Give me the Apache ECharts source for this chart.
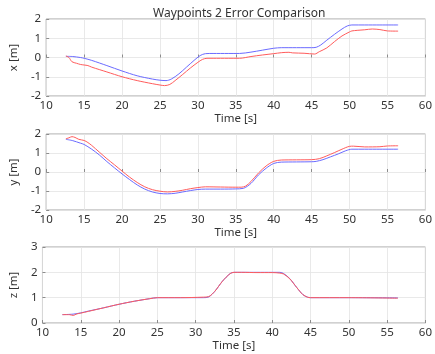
<!DOCTYPE html>
<html><head><meta charset="utf-8">
<script src="https://cdn.jsdelivr.net/npm/echarts@6/dist/echarts.min.js"></script>
<style>html,body{margin:0;padding:0;background:#fff}#c{width:435px;height:354px}</style>
</head><body><div id="c"></div>
<script>
// ---- Data ----
const xRefT = [12.6,13.5,14.5,15,16,18,20,22,24,25,25.8,26.5,27.5,28.5,29.5,30.3,31,32,34,35.5,37,38.5,40,41,43,45,45.6,46.2,47,48,49,49.7,50.3,52,54,56.4];
const xRefV = [0.06,0.05,0.0,-0.04,-0.15,-0.42,-0.7,-0.95,-1.12,-1.18,-1.2,-1.12,-0.85,-0.5,-0.15,0.1,0.2,0.21,0.21,0.21,0.28,0.38,0.48,0.51,0.51,0.51,0.53,0.65,0.9,1.2,1.48,1.64,1.69,1.69,1.69,1.69];
const xActT = [12.6,13.0,13.4,14.0,14.5,15,15.5,16,18,20,22,24,25,25.6,26.3,27,28,29,30,30.6,31.2,32,34,35.5,37,38.5,40,41,42,42.5,44,45.4,46,47,48,49,50,50.3,51,52,53,54,55,56.4];
const xActV = [0.08,0.0,-0.22,-0.3,-0.36,-0.39,-0.42,-0.5,-0.75,-1.0,-1.2,-1.36,-1.43,-1.46,-1.4,-1.2,-0.88,-0.55,-0.25,-0.1,-0.04,-0.04,-0.04,-0.04,0.05,0.13,0.2,0.25,0.27,0.24,0.22,0.18,0.3,0.5,0.82,1.12,1.33,1.38,1.41,1.44,1.48,1.45,1.38,1.37];

const yRefT = [12.6,13.5,14.5,15,16,17,18,19,20,21,22,23,24,25,26,27,28,29,30,31,33,35,36,37,38,39,40,41,43,45,45.6,46.5,47.5,48.5,49.5,50.3,52,54,56.4];
const yRefV = [1.72,1.65,1.52,1.45,1.2,0.9,0.55,0.22,-0.1,-0.4,-0.68,-0.9,-1.05,-1.13,-1.15,-1.12,-1.05,-0.98,-0.92,-0.9,-0.9,-0.89,-0.86,-0.6,-0.15,0.2,0.45,0.52,0.53,0.54,0.56,0.65,0.8,0.95,1.12,1.2,1.2,1.2,1.2];
const yActT = [12.6,13.0,13.4,13.8,14.3,15,15.5,16,17,18,19,20,21,22,23,24,25,26,27,28,29,30,31,33,35,35.7,36.3,37,38,39,40,41,43,45,46,47,48,49,50,50.5,52,54,55,56.4];
const yActV = [1.75,1.8,1.86,1.82,1.72,1.66,1.55,1.4,1.05,0.7,0.38,0.05,-0.27,-0.55,-0.78,-0.93,-1.01,-1.05,-1.02,-0.96,-0.88,-0.82,-0.78,-0.79,-0.8,-0.8,-0.74,-0.5,-0.05,0.32,0.56,0.63,0.64,0.65,0.7,0.85,1.02,1.2,1.35,1.36,1.32,1.33,1.37,1.38];

const zRefT = [12.6,14,15,16,18,20,22,24,25,28,31,31.7,32.5,33.5,34.5,35,36,38,40,41,41.5,42.3,43.2,44,44.6,45,50,56.4];
const zRefV = [0.33,0.35,0.4,0.47,0.6,0.74,0.86,0.96,1.0,1.0,1.0,1.03,1.25,1.65,1.95,2.0,2.0,2.0,2.0,2.0,1.95,1.75,1.4,1.12,1.02,1.0,1.0,0.99];
const zActT = [12.6,13.5,14.0,14.5,15,16,18,20,22,24,25,28,31,31.7,32.5,33.5,34.5,35,36,38,40,41,41.5,42.3,43.2,44,44.6,45,50,56.4];
const zActV = [0.33,0.33,0.3,0.36,0.39,0.46,0.6,0.74,0.86,0.96,1.0,1.0,1.02,1.04,1.25,1.65,1.95,2.0,2.0,1.99,1.99,1.97,1.93,1.74,1.4,1.12,1.02,1.0,1.0,0.98];

const xTicks = [10,15,20,25,30,35,40,45,50,55,60];
const panels = [
  {name:'x [m]', min:-2, max:2, refT:xRefT, refV:xRefV, actT:xActT, actV:xActV, top:19, height:77},
  {name:'y [m]', min:-2, max:2, refT:yRefT, refV:yRefV, actT:yActT, actV:yActV, top:134, height:76},
  {name:'z [m]', min:0, max:3, refT:zRefT, refV:zRefV, actT:zActT, actV:zActV, top:247, height:76}
];

const FONT = '"Noto Sans",sans-serif';
const txt = '#333333';
const grids=[], xAxes=[], yAxes=[], series=[];
const zip = (t,v)=>t.map((a,i)=>[a,v[i]]);
panels.forEach((p,i)=>{
  grids.push({left:38.5, top:p.top, width:388.5, height:p.height, show:true, borderColor:'#8c8c8c', borderWidth:0.8, backgroundColor:'#fff'});
  xAxes.push({gridIndex:i, type:'value', min:10, max:60, interval:5,
    name:'Time [s]', nameLocation:'middle', nameGap:17, nameTextStyle:{fontFamily:FONT, fontSize:11.5, color:txt},
    axisLine:{show:false}, axisTick:{inside:true, length:3, lineStyle:{color:'#8c8c8c'}},
    axisLabel:{fontFamily:FONT, fontSize:11.5, color:txt, margin:4},
    splitLine:{show:true, lineStyle:{color:'#e3e3e3', width:0.8}}});
  yAxes.push({gridIndex:i, type:'value', min:p.min, max:p.max, interval:1,
    name:p.name, nameLocation:'middle', nameGap:20, nameRotate:90, nameTextStyle:{fontFamily:FONT, fontSize:11.5, color:txt},
    axisLine:{show:false}, axisTick:{inside:true, length:3, lineStyle:{color:'#8c8c8c'}},
    axisLabel:{fontFamily:FONT, fontSize:11.5, color:txt, margin:5},
    splitLine:{show:true, lineStyle:{color:'#e3e3e3', width:0.8}}});
  series.push({type:'line', xAxisIndex:i, yAxisIndex:i, data:zip(p.refT,p.refV), showSymbol:false, smooth:0.3,
    lineStyle:{color:'#6b6bff', width:1}, silent:true, z:2});
  series.push({type:'line', xAxisIndex:i, yAxisIndex:i, data:zip(p.actT,p.actV), showSymbol:false, smooth:0.3,
    lineStyle:{color:'#ff5c5c', width:1}, silent:true, z:3});
});

const chart = echarts.init(document.getElementById('c'), null, {renderer:'canvas'});
chart.setOption({
  animation:false,
  backgroundColor:'#fff',
  title:{text:'Waypoints 2 Error Comparison', left:148, top:3, textStyle:{fontFamily:FONT, fontSize:12, fontWeight:'normal', color:txt}},
  grid:grids, xAxis:xAxes, yAxis:yAxes, series:series
});
</script></body></html>
